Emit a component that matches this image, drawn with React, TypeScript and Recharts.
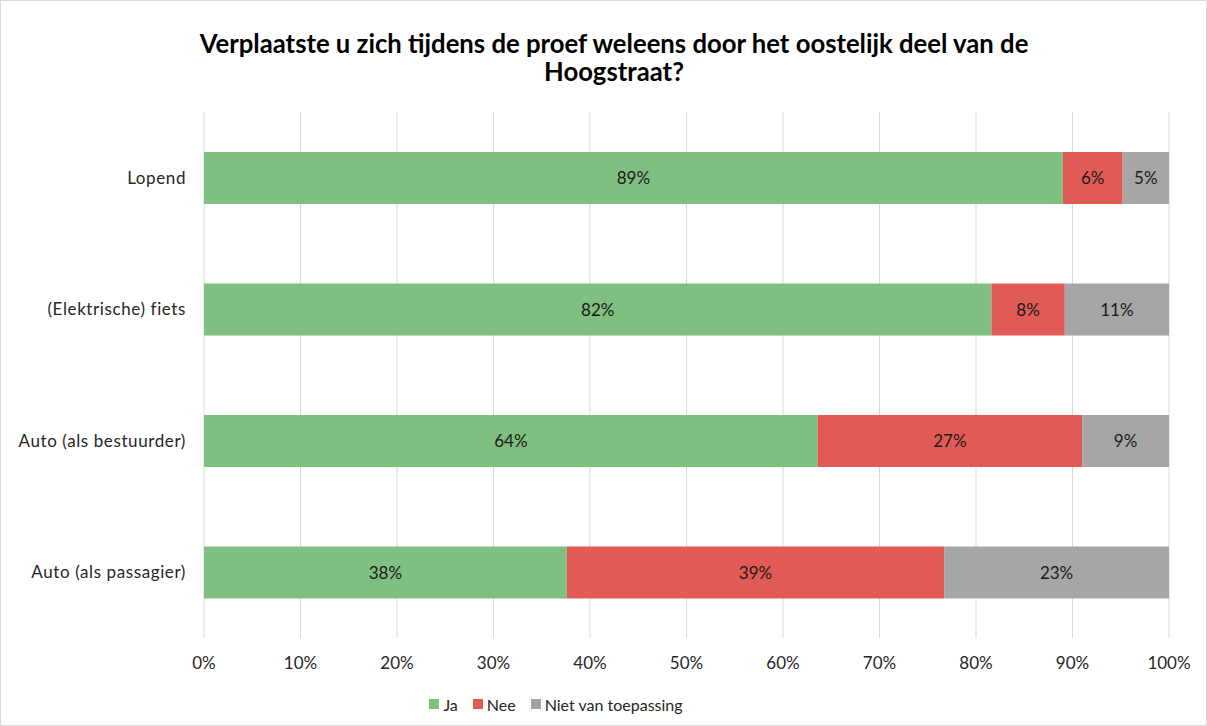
import React from 'react';
import { BarChart, Bar, XAxis, YAxis, CartesianGrid, LabelList, Legend } from 'recharts';

const categories = ['Lopend', '(Elektrische) fiets', 'Auto (als bestuurder)', 'Auto (als passagier)'];
const jaValues = [89.0, 81.6, 63.6, 37.6];
const neeValues = [6.2, 7.6, 27.4, 39.1];
const nvtValues = [4.8, 10.8, 9.0, 23.3];
const seriesKeys = ['ja', 'nee', 'nvt'];
const seriesNames = ['Ja', 'Nee', 'Niet van toepassing'];
const seriesColors = ['#7fbf7f', '#e15a55', '#a6a6a6'];
const xTicks = [0, 10, 20, 30, 40, 50, 60, 70, 80, 90, 100];
const titleLines = ['Verplaatste u zich tijdens de proef weleens door het oostelijk deel van de', 'Hoogstraat?'];

const data = categories.map((name, i) => ({
  name,
  ja: jaValues[i],
  nee: neeValues[i],
  nvt: nvtValues[i],
}));

const FONT = 'Lato, "Open Sans", sans-serif';

const LegendContent = () => (
  <div style={{ display: 'flex', justifyContent: 'center', alignItems: 'center', height: 20, fontFamily: FONT, fontSize: 16, color: '#262626' }}>
    {seriesNames.map((n, i) => (
      <div key={n} style={{ display: 'flex', alignItems: 'center', marginRight: i < seriesNames.length - 1 ? 15 : 0 }}>
        <div style={{ width: 10, height: 10, background: seriesColors[i], marginRight: 4 }} />
        <span>{n}</span>
      </div>
    ))}
  </div>
);

export default function App() {
  return (
    <div style={{ position: 'absolute', left: 0, top: 0, width: 1207, height: 726, background: '#fff' }}>
      <div style={{ position: 'absolute', left: 0, top: 0, width: 1207, height: 726, boxSizing: 'border-box', border: '1px solid #d9d9d9', pointerEvents: 'none', zIndex: 2 }} />
      <div style={{ position: 'absolute', left: 100, top: 29, width: 1028, textAlign: 'center', fontFamily: FONT, fontWeight: 700, fontSize: 25.7, lineHeight: '28px', color: '#000', whiteSpace: 'nowrap' }}>
        {titleLines.map((l) => (
          <div key={l}>{l}</div>
        ))}
      </div>
      <BarChart
        width={1207}
        height={726}
        data={data}
        layout="vertical"
        margin={{ top: 112, right: 38, left: 0, bottom: 28 }}
        style={{ fontFamily: FONT }}
      >
        <CartesianGrid horizontal={false} vertical stroke="#d9d9d9" strokeWidth={1} />
        <XAxis
          type="number"
          domain={[0, 100]}
          ticks={xTicks}
          tickFormatter={(v) => `${v}%`}
          axisLine={false}
          tickLine={false}
          tickSize={0}
          tickMargin={19}
          height={40}
          interval={0}
          tick={{ fill: '#262626', fontSize: 17, fontFamily: FONT }}
        />
        <YAxis
          type="category"
          dataKey="name"
          width={204}
          axisLine={false}
          tickLine={false}
          tickSize={0}
          tickMargin={18}
          tick={{ fill: '#262626', fontSize: 17, fontFamily: FONT, letterSpacing: 0.6 }}
        />
        <Legend
          verticalAlign="bottom"
          height={20}
          wrapperStyle={{ left: 0, width: 1112, bottom: 12 }}
          content={<LegendContent />}
        />
        {seriesKeys.map((k, i) => (
          <Bar key={k} dataKey={k} name={seriesNames[i]} stackId="a" fill={seriesColors[i]} barSize={52} isAnimationActive={false}>
            <LabelList
              dataKey={k}
              position="center"
              formatter={(v: number) => `${Math.round(v)}%`}
              style={{ fill: '#1a1a1a', fontSize: 17, fontFamily: FONT }}
            />
          </Bar>
        ))}
      </BarChart>
    </div>
  );
}
